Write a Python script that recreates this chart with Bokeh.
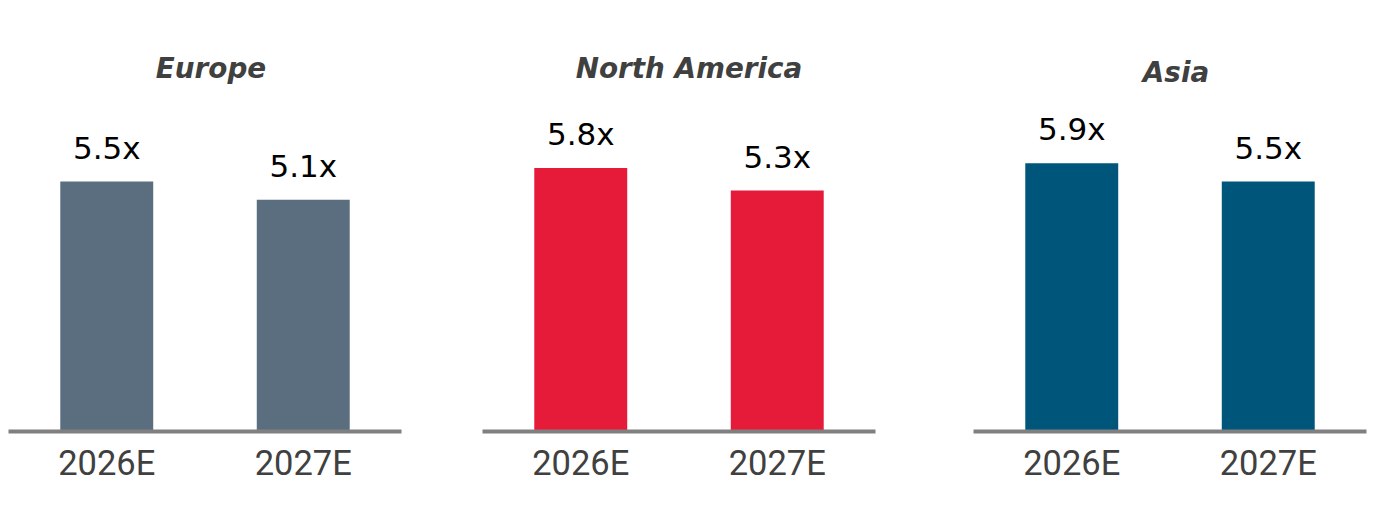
from bokeh.plotting import figure
from bokeh.models import ColumnDataSource, FactorRange, Range1d, LabelSet, Label
from bokeh.layouts import row
from bokeh.core.properties import value
from bokeh.embed import file_html
from bokeh.resources import INLINE

# ---- data ----
years = ["2026E", "2027E"]
regions = ["Europe", "North America", "Asia"]
europe = [5.5, 5.1]
north_america = [5.8, 5.3]
asia = [5.9, 5.5]
colors = ["#5B6E7F", "#E61B3A", "#00557A"]

series = [europe, north_america, asia]
title_dy = [0.0, 0.0, -0.09]      # Asia title sits a little lower
title_dx = [6, 10, 6]
left_borders = [8, 0, 0]
right_borders = [81, 98, 5]

PX_PER_UNIT = 45.45
FRAME_H = 423
Y_END = FRAME_H / PX_PER_UNIT

figs = []
for i, (name, vals, col) in enumerate(zip(regions, series, colors)):
    src = ColumnDataSource(dict(
        year=years,
        value=vals,
        label=[f"{v:.1f}x" for v in vals],
    ))
    p = figure(
        x_range=FactorRange(factors=years, range_padding=0.0),
        y_range=Range1d(0, Y_END),
        width=left_borders[i] + 393 + right_borders[i], height=511,
        min_border_left=left_borders[i], min_border_right=right_borders[i],
        min_border_top=8, min_border_bottom=80,
        toolbar_location=None, output_backend="svg",
        y_axis_location=None,
    )
    p.vbar(x="year", top="value", width=0.473, source=src,
           fill_color=col, line_color=None)

    p.add_layout(LabelSet(x="year", y="value", text="label", source=src,
                          y_offset=23, text_align="center",
                          text_baseline="alphabetic",
                          text_font=value("DejaVu Sans"),
                          text_font_size=value("31px"),
                          text_color="#000000"))

    p.add_layout(Label(x=1.0, y=(431 - 68) / PX_PER_UNIT + title_dy[i],
                       x_offset=title_dx[i],
                       text=name, text_align="center",
                       text_baseline="alphabetic",
                       text_font="DejaVu Sans", text_font_style="bold italic",
                       text_font_size="27.8px", text_color="#404040"))

    ax = p.xaxis[0]
    ax.axis_line_color = "#808080"
    ax.axis_line_width = 4
    ax.major_tick_line_color = None
    ax.minor_tick_line_color = None
    ax.major_label_standoff = 5
    ax.major_label_text_font = "Roboto"
    ax.major_label_text_font_size = "34.5px"
    ax.major_label_text_color = "#404040"

    p.xgrid.grid_line_color = None
    p.ygrid.grid_line_color = None
    p.outline_line_color = None
    p.background_fill_color = "white"
    p.border_fill_color = "white"
    figs.append(p)

layout = row(*figs, spacing=0)

open("out.html", "w").write(file_html(layout, INLINE))
